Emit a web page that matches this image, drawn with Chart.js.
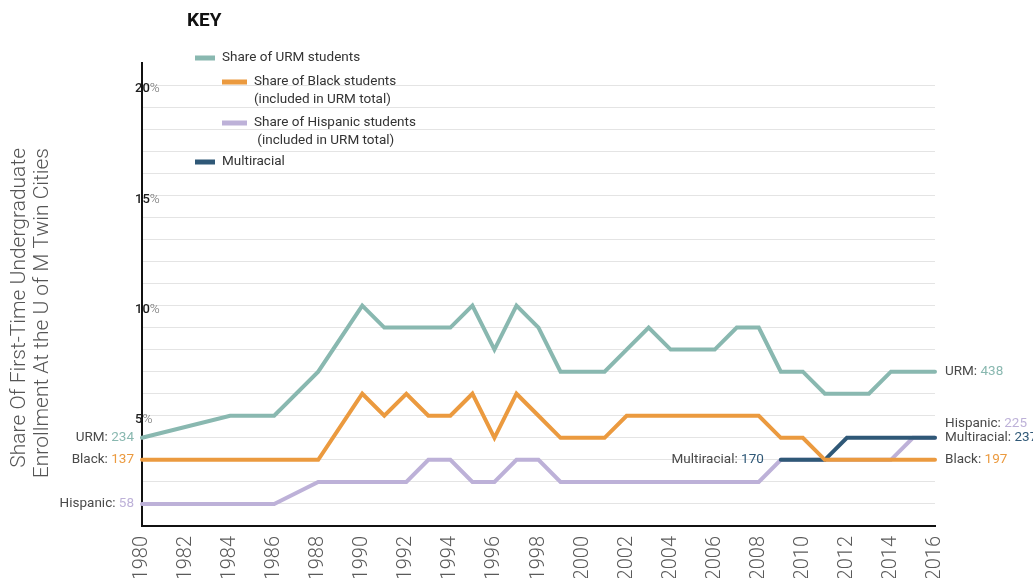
<!DOCTYPE html>
<html>
<head>
<meta charset="utf-8">
<script src="https://cdn.jsdelivr.net/npm/chart.js@4"></script>
<style>
  body { margin: 0; background: #fff; }
  #wrap { width: 1033px; height: 578px; position: relative; }
</style>
</head>
<body>
<div id="wrap"><canvas id="enrollment-chart"></canvas></div>
<script>
// years on the x axis (gaps = no data that year)
const years = [
  "1980", "1981", "1982", "1983", "1984", "1985", "1986", "1987", "1988", "1989",
  "1990", "1991", "1992", "1993", "1994", "1995", "1996", "1997", "1998", "1999",
  "2000", "2001", "2002", "2003", "2004", "2005", "2006", "2007", "2008", "2009",
  "2010", "2011", "2012", "2013", "2014", "2015", "2016",
];

// share of first-time undergrads, %
const urmShare = [
  4, null, null, null, 5, null, 5, null, 7, null,
  10, 9, 9, 9, 9, 10, 8, 10, 9, 7,
  7, 7, 8, 9, 8, 8, 8, 9, 9, 7,
  7, 6, 6, 6, 7, 7, 7,
];
const blackShare = [
  3, null, null, null, 3, null, 3, null, 3, null,
  6, 5, 6, 5, 5, 6, 4, 6, 5, 4,
  4, 4, 5, 5, 5, 5, 5, 5, 5, 4,
  4, 3, 3, 3, 3, 3, 3,
];
const hispanicShare = [
  1, null, null, null, 1, null, 1, null, 2, null,
  2, 2, 2, 3, 3, 2, 2, 3, 3, 2,
  2, 2, 2, 2, 2, 2, 2, 2, 2, 3,
  3, 3, 3, 3, 3, 4, 4,
];
const multiracialShare = [
  null, null, null, null, null, null, null, null, null, null,
  null, null, null, null, null, null, null, null, null, null,
  null, null, null, null, null, null, null, null, null, 3,
  3, 3, 4, 4, 4, 4, 4,
];

// head counts shown beside the lines
const startCounts = { URM: 234, Black: 137, Hispanic: 58, Multiracial: 170 };
const endCounts = { URM: 438, Hispanic: 225, Multiracial: 237, Black: 197 };

const yTickLabels = [5, 10, 15, 20];

const colors = {
  URM: "#89b8b0",
  Black: "#eb9a3f",
  Hispanic: "#bdb1d8",
  Multiracial: "#2f5877",
};

const legendItems = [
  { key: "URM", lines: ["Share of URM students"], indent: 0 },
  { key: "Black", lines: ["Share of Black students", "(included in URM total)"], indent: 1 },
  { key: "Hispanic", lines: ["Share of Hispanic students", " (included in URM total)"], indent: 1 },
  { key: "Multiracial", lines: ["Multiracial"], indent: 0 },
];

const labelFont = "13.5px Roboto, 'Noto Sans', sans-serif";

const drawTwoTone = (ctx, x, y, parts, align) => {
  // parts: [[text, color, font], ...]
  let widths = parts.map(([t, , f]) => {
    ctx.font = f;
    return ctx.measureText(t).width;
  });
  let total = widths.reduce((a, b) => a + b, 0);
  let cx = align === "right" ? x - total : x;
  ctx.textAlign = "left";
  parts.forEach(([t, c, f], i) => {
    ctx.font = f;
    ctx.fillStyle = c;
    ctx.fillText(t, cx, y);
    cx += widths[i];
  });
};

const drawRotated = (ctx, text, x, y) => {
  ctx.save();
  ctx.fillStyle = "#555";
  ctx.font = "300 21px 'Liberation Sans Narrow', Roboto, sans-serif";
  ctx.textAlign = "right";
  ctx.textBaseline = "alphabetic";
  ctx.translate(x, y);
  ctx.rotate(-Math.PI / 2);
  ctx.fillText(text, 0, 0);
  ctx.restore();
};

const decorations = {
  id: "decorations",
  afterDraw(chart) {
    const { ctx, chartArea, scales } = chart;
    const xs = scales.x;
    const ys = scales.y;
    ctx.save();
    ctx.textBaseline = "middle";

    // y tick labels: number dark, % grey
    yTickLabels.forEach((v) => {
      const y = ys.getPixelForValue(v) + 4;
      drawTwoTone(ctx, chartArea.left - 7, y, [
        [String(v), "#1d1d1d", "500 13px Roboto, sans-serif"],
        ["%", "#6f6f6f", "300 13.5px Roboto, sans-serif"],
      ], "left");
    });

    // y axis title, two lines
    drawRotated(ctx, "Share Of First-Time Undergraduate", 25, 148);
    drawRotated(ctx, "Enrollment At the U of M Twin Cities", 48, 148);

    // labels at the start of each line
    const series = { URM: urmShare, Black: blackShare, Hispanic: hispanicShare, Multiracial: multiracialShare };
    Object.keys(startCounts).forEach((k) => {
      const data = series[k];
      const i = data.findIndex((v) => v !== null);
      const x = xs.getPixelForValue(i) - (k === "Multiracial" ? 17 : 8);
      const y = ys.getPixelForValue(data[i]);
      drawTwoTone(ctx, x, y, [
        [k + ": ", "#4a4a4a", labelFont],
        [String(startCounts[k]), colors[k], labelFont],
      ], "right");
    });

    // labels at the end of each line
    const nudge = { Hispanic: -14 };
    Object.keys(endCounts).forEach((k) => {
      const data = series[k];
      const i = data.length - 1;
      const x = xs.getPixelForValue(i) + 10;
      const y = ys.getPixelForValue(data[i]) + (nudge[k] || 0);
      drawTwoTone(ctx, x, y, [
        [k + ": ", "#4a4a4a", labelFont],
        [String(endCounts[k]), colors[k], labelFont],
      ], "left");
    });

    // key
    ctx.fillStyle = "#111";
    ctx.font = "bold 19px Roboto, sans-serif";
    ctx.textAlign = "left";
    ctx.fillText("KEY", 187, 21);
    const rowY = [58, 82, 123, 162];
    legendItems.forEach((item, n) => {
      const sx = item.indent ? 222 : 195;
      const sw = item.indent ? 25 : 20;
      ctx.fillStyle = colors[item.key];
      ctx.fillRect(sx, rowY[n] - 2.5, sw, 5);
      ctx.fillStyle = "#333";
      ctx.font = labelFont;
      item.lines.forEach((line, j) => {
        ctx.fillText(line, sx + sw + 7, rowY[n] + j * 18);
      });
    });

    ctx.restore();
  },
};

const makeSet = (key, data, order) => ({
  label: key,
  data: data,
  borderColor: colors[key],
  backgroundColor: colors[key],
  borderWidth: 4,
  borderCapStyle: "round",
  pointRadius: 0,
  pointHoverRadius: 0,
  spanGaps: true,
  tension: 0,
  order: order,
});

new Chart(document.querySelector("#enrollment-chart"), {
  type: "line",
  data: {
    labels: years,
    datasets: [
      makeSet("URM", urmShare, 0),
      makeSet("Black", blackShare, 1),
      makeSet("Multiracial", multiracialShare, 2),
      makeSet("Hispanic", hispanicShare, 3),
    ],
  },
  options: {
    responsive: true,
    maintainAspectRatio: false,
    animation: false,
    layout: { padding: { left: 142, right: 98, top: 63, bottom: 0 } },
    plugins: {
      legend: { display: false },
      tooltip: { enabled: false },
    },
    scales: {
      x: {
        type: "category",
        offset: false,
        grid: { display: false, drawTicks: false },
        border: { display: true, color: "#111", width: 2 },
        ticks: {
          autoSkip: false,
          minRotation: 90,
          maxRotation: 90,
          padding: 10,
          color: "#5a5a5a",
          font: { family: "'Liberation Sans Narrow', Roboto, sans-serif", size: 20, weight: "300" },
          callback: function (value) {
            const lab = this.getLabelForValue(value);
            return Number(lab) % 2 === 0 ? lab : "";
          },
        },
        afterFit: (scale) => {
          scale.height = 52;
        },
      },
      y: {
        min: 0,
        max: 21,
        grid: {
          drawTicks: false,
          lineWidth: 1,
          color: (c) => (c.tick && (c.tick.value === 21 || c.tick.value === 0) ? "rgba(0,0,0,0)" : "#e4e4e4"),
        },
        border: { display: true, color: "#111", width: 2 },
        ticks: { display: false, stepSize: 1 },
        afterFit: (scale) => {
          scale.width = 0;
        },
      },
    },
  },
  plugins: [decorations],
});
</script>
</body>
</html>
